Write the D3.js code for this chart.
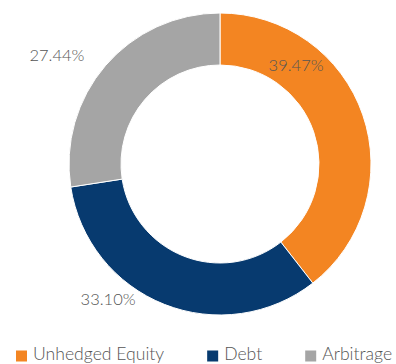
<!DOCTYPE html>
<html>
<head>
<meta charset="utf-8">
<script src="https://cdn.jsdelivr.net/npm/d3@7"></script>
<style>
  html, body { margin: 0; padding: 0; background: #ffffff; }
  svg { display: block; }
  text { font-family: Lato, "Open Sans", sans-serif; fill: #555555; font-weight: 300; }
</style>
</head>
<body>
<svg id="chart" width="396" height="364"></svg>
<script>
// Portfolio allocation
const categories = ["Unhedged Equity", "Debt", "Arbitrage"];
const shares = [39.47, 33.10, 27.44];
const valueLabels = ["39.47%", "33.10%", "27.44%"];

const colors = ["#F38522", "#073A6F", "#A5A5A5"];

// Label placement along each slice: fraction of slice angle and radius
const labelSpot = [
  { t: 0.264, r: 125 },
  { t: 0.652, r: 175 },
  { t: 0.43,  r: 196 }
];

const width = 396, height = 364;
const cx = 220, cy = 164;
const outerR = 151, innerR = 99;

const svg = d3.select("#chart");

const data = categories.map((c, i) => ({ name: c, value: shares[i], label: valueLabels[i], color: colors[i], spot: labelSpot[i] }));

const pie = d3.pie().sort(null).value(d => d.value);
const arcs = pie(data);
const arc = d3.arc().innerRadius(innerR).outerRadius(outerR);

const g = svg.append("g").attr("transform", `translate(${cx},${cy})`);

g.selectAll("path.slice")
  .data(arcs)
  .join("path")
  .attr("class", "slice")
  .attr("d", arc)
  .attr("fill", d => d.data.color)
  .attr("stroke", "#ffffff")
  .attr("stroke-width", 1);

g.selectAll("text.value")
  .data(arcs)
  .join("text")
  .attr("class", "value")
  .attr("text-anchor", "middle")
  .attr("dominant-baseline", "central")
  .attr("font-size", 16.5)
  .attr("x", d => {
    const a = d.startAngle + (d.endAngle - d.startAngle) * d.data.spot.t;
    return Math.sin(a) * d.data.spot.r;
  })
  .attr("y", d => {
    const a = d.startAngle + (d.endAngle - d.startAngle) * d.data.spot.t;
    return -Math.cos(a) * d.data.spot.r;
  })
  .text(d => d.data.label);

// Legend along the bottom edge
const legend = svg.append("g").attr("class", "legend");
let lx = 16;
const ly = 360;
data.forEach(d => {
  const item = legend.append("g");
  item.append("rect")
    .attr("x", lx).attr("y", ly - 9.5)
    .attr("width", 11).attr("height", 11)
    .attr("fill", d.color);
  const t = item.append("text")
    .attr("x", lx + 17).attr("y", ly)
    .attr("font-size", 17.6)
    .text(d.name);
  lx += 17 + t.node().getComputedTextLength() + 43;
});
</script>
</body>
</html>
